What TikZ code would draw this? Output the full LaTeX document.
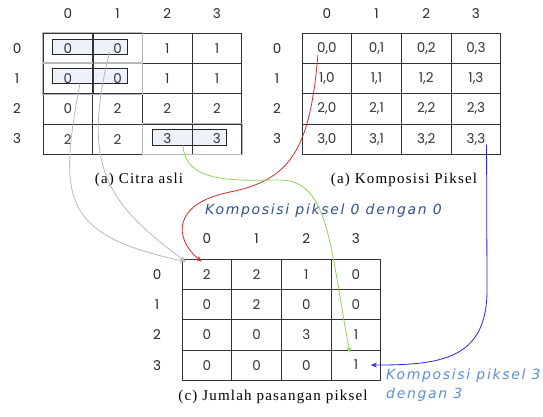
\documentclass[tikz,border=0pt]{standalone}
\usepackage{fontspec}
\setmainfont{Liberation Serif}
\newfontfamily\cellfont{Poppins}
\newfontfamily\capfont[LetterSpace=8]{Liberation Serif}
\newfontfamily\notefont[LetterSpace=12]{DejaVu Sans}
\usetikzlibrary{arrows.meta, positioning}

\definecolor{hlfill}{HTML}{EDF1F8}
\definecolor{notedark}{HTML}{34508C}
\definecolor{notelight}{HTML}{5B8ED4}
\definecolor{linered}{HTML}{D42A2A}
\definecolor{linegreen}{HTML}{8ED45C}
\definecolor{lineblue}{HTML}{2424E6}
\definecolor{linegray}{HTML}{B8B8B8}

\tikzset{
  cell/.style={draw=black!80, line width=0.8pt, minimum width=49.7pt, minimum height=30.3pt,
    inner sep=0pt, font=\cellfont\fontsize{13.5}{14}\selectfont, text=black!80},
  idx/.style={font=\cellfont\fontsize{13.5}{14}\selectfont, text=black!85},
  hlbox/.style={draw=black!85, line width=0.8pt, fill=hlfill, inner sep=0pt},
  caption/.style={font=\capfont\fontsize{15}{16}\selectfont},
  note/.style={font=\notefont\itshape\fontsize{14}{19}\selectfont, align=left, inner sep=0pt},
  link/.style={line width=0.8pt, -{Stealth[length=6pt,width=5pt]}},
}

\begin{document}
\begin{tikzpicture}[x=1pt, y=-1pt]
  \useasboundingbox (0,0) rectangle (543,416);

  % Citra asli: index labels
  \foreach \c in {0,...,3} {
    \node[idx] (ac-\c) at ({43+49.7*(\c+0.5)},14) {\c};
    \node[idx] (ar-\c) at (17,{33+30.3*(\c+0.5)}) {\c};
  }
  % selected pixel pairs
  \node[hlbox, minimum width=75pt, minimum height=15pt] (hlA) at (89.5,46.5) {};
  \node[hlbox, minimum width=75pt, minimum height=15pt] (hlB) at (89.5,75.5) {};
  \node[hlbox, minimum width=74pt, minimum height=16pt] (hlC) at (189,137) {};
  % Citra asli: cells
  \foreach \r/\vals in {0/{0,0,1,1},1/{0,0,1,1},2/{0,2,2,2},3/{2,2,3,3}} {
    \foreach \v [count=\c from 0] in \vals
      \node[cell] (a-\r-\c) at ({43+49.7*(\c+0.5)},{33+30.3*(\r+0.5)}) {\v};
  }
  \draw[linegray, line width=0.9pt] (a-0-0.north west) rectangle (a-0-1.south east);
  \draw[linegray, line width=0.9pt] (a-1-0.north west) rectangle (a-1-1.south east);
  \draw[linegray, line width=0.9pt] (a-3-2.north west) rectangle (a-3-3.south east);
  \draw[black!80, line width=0.8pt] (a-0-0.north east) -- (a-1-0.south east);
  \node[caption] (capA) at (139,180) {(a) Citra asli};

  % Komposisi piksel
  \foreach \c in {0,...,3} {
    \node[idx] (kc-\c) at ({302+49.7*(\c+0.5)},14) {\c};
    \node[idx] (kr-\c) at (277,{33+30.3*(\c+0.5)}) {\c};
  }
  \foreach \r in {0,...,3}
    \foreach \c in {0,...,3}
      \node[cell] (k-\r-\c) at ({302+49.7*(\c+0.5)},{33+30.3*(\r+0.5)}) {\r,\c};
  \node[caption] (capK) at (404,180) {(a) Komposisi Piksel};

  % Jumlah pasangan piksel
  \foreach \c in {0,...,3} {
    \node[idx] (jc-\c) at ({182+49.7*(\c+0.5)},239) {\c};
    \node[idx] (jr-\c) at (157,{259+30.3*(\c+0.5)}) {\c};
  }
  \foreach \r/\vals in {0/{2,2,1,0},1/{0,2,0,0},2/{0,0,3,1},3/{0,0,0,1}} {
    \foreach \v [count=\c from 0] in \vals
      \node[cell] (j-\r-\c) at ({182+49.7*(\c+0.5)},{259+30.3*(\r+0.5)}) {\v};
  }
  \node[caption] (capJ) at (273,397) {(c) Jumlah pasangan piksel};

  % notes
  \node[note, text=notedark, anchor=west] (noteA) at (205,211) {Komposisi piksel 0 dengan 0};
  \node[note, text=notelight, anchor=north west] (noteB) at (386,369) {Komposisi piksel 3\\dengan 3};

  % connectors
  \coordinate (gA) at ([xshift=-9.5pt]hlB.south);
  \coordinate (gB) at ([xshift=-8pt,yshift=-4pt]a-0-1.center);
  \coordinate (rA) at ([xshift=-9pt,yshift=-7pt]k-0-0.center);
  \coordinate (grA) at ([xshift=-6pt]hlC.south);
  \coordinate (bA) at ([xshift=10.6pt,yshift=-5.5pt]k-3-3.center);
  \draw[link, linegray] (gA) .. controls (58,200) and (62,235) .. ([xshift=4pt,yshift=-3pt]j-0-0.north west);
  \draw[link, linegray] (gB) .. controls (80,170) and (110,205) .. ([xshift=4pt,yshift=-3pt]j-0-0.north west);
  \draw[link, linered] (rA) .. controls (310,150) and (290,180) .. (230,192)
    .. controls (170,204) and (175,240) .. ([xshift=20pt,yshift=-3pt]j-0-0.north west);
  \draw[link, linegreen] (grA) .. controls (185,185) and (240,180) .. (280,180)
    .. controls (330,180) and (330,250) .. ([xshift=-6pt,yshift=12pt]j-3-3.center);
  \draw[link, lineblue] (bA) -- (487,290) .. controls (487,360) and (440,365) .. ([xshift=15pt]j-3-3.center);
\end{tikzpicture}
\end{document}
